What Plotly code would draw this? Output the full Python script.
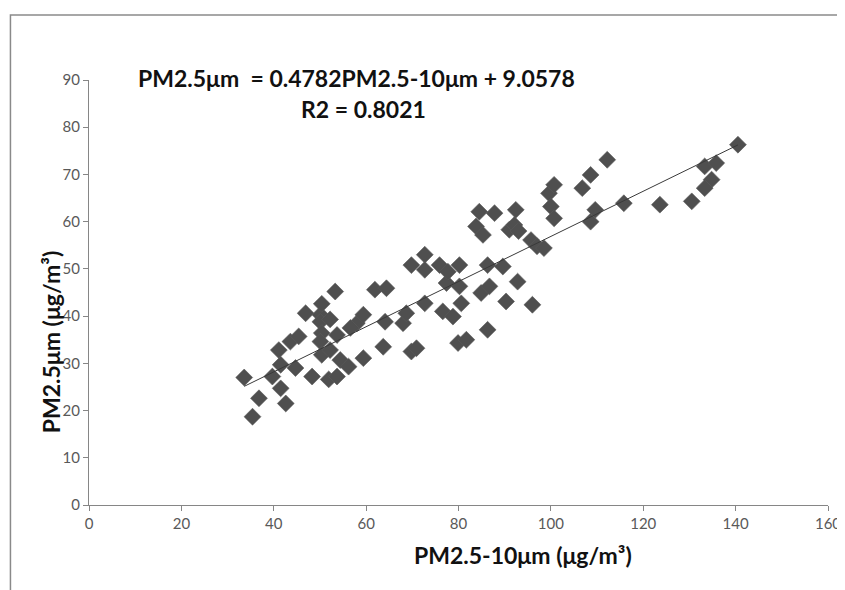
import plotly.graph_objects as go

# PM2.5-10 (x) and PM2.5 (y), ug/m3
pm_coarse = [33.6, 35.4, 36.8, 39.7, 41.1, 41.5, 41.5, 42.6, 43.6, 44.7,
             45.4, 46.9, 48.3, 50.1, 50.4, 50.1, 50.4, 50.1, 50.4, 51.9,
             52.2, 52.2, 53.3, 53.7, 53.7, 54.4, 56.2, 58.0, 59.4, 59.4,
             56.6, 61.9, 64.4, 64.1, 63.7, 68.0, 68.7, 69.8, 69.8, 70.9,
             72.7, 72.7, 72.7, 75.9, 76.6, 77.4, 77.7, 78.8, 79.9, 80.2,
             80.2, 80.6, 81.7, 84.5, 83.8, 85.3, 84.9, 86.3, 86.7, 86.3,
             87.8, 89.6, 90.3, 91.0, 92.1, 92.4, 93.0, 92.8, 95.7, 96.0,
             97.0, 98.5, 99.6, 100.7, 100.0, 100.7, 106.8, 108.6, 108.6, 109.6,
             112.2, 115.8, 123.6, 130.5, 133.3, 135.8, 134.8, 133.3, 140.5]
pm_fine = [27.0, 18.7, 22.6, 27.2, 32.8, 29.7, 24.7, 21.5, 34.6, 29.0,
           35.7, 40.6, 27.2, 40.3, 42.6, 38.8, 36.4, 34.6, 31.8, 26.6,
           39.3, 32.8, 45.2, 36.0, 27.2, 30.7, 29.3, 38.5, 40.3, 31.1,
           37.5, 45.6, 45.9, 38.8, 33.5, 38.5, 40.6, 50.8, 32.5, 33.2,
           53.0, 49.8, 42.7, 50.8, 41.0, 47.0, 49.4, 39.9, 34.3, 50.8,
           46.3, 42.7, 35.0, 62.1, 59.0, 57.2, 44.9, 50.8, 46.3, 37.1,
           61.8, 50.5, 43.1, 58.3, 59.3, 62.5, 58.0, 47.3, 56.1, 42.4,
           54.8, 54.4, 66.0, 67.8, 63.2, 60.7, 67.1, 69.9, 60.0, 62.5,
           73.1, 63.9, 63.6, 64.3, 71.7, 72.4, 68.9, 67.1, 76.3]

slope = 0.4782
intercept = 9.0578
r2 = 0.8021

x_ticks = [0, 20, 40, 60, 80, 100, 120, 140, 160]
y_ticks = [0, 10, 20, 30, 40, 50, 60, 70, 80, 90]

FONT = "Lato, 'Open Sans', sans-serif"
AXIS_COLOR = "#868686"
TICK_COLOR = "#595959"

xl = [min(pm_coarse), max(pm_coarse)]
yl = [slope * v + intercept for v in xl]

fig = go.Figure()
fig.add_trace(go.Scatter(
    x=pm_coarse, y=pm_fine, mode="markers",
    marker=dict(symbol="diamond", size=13, color="#4f4f4f",
                line=dict(color="rgba(90,90,90,0.6)", width=1)),
    showlegend=False, hoverinfo="x+y"))
fig.add_trace(go.Scatter(
    x=xl, y=yl, mode="lines",
    line=dict(color="#3a3a3a", width=1),
    showlegend=False, hoverinfo="skip"))

fig.update_layout(
    width=845, height=590,
    margin=dict(l=81, r=21, t=72, b=93),
    paper_bgcolor="white", plot_bgcolor="white",
    font=dict(family=FONT, color=TICK_COLOR, size=15),
    xaxis=dict(range=[0, 160], tickvals=x_ticks, showgrid=False, zeroline=False,
               showline=True, linecolor=AXIS_COLOR, linewidth=1,
               ticks="outside", ticklen=5, tickcolor=AXIS_COLOR,
               tickfont=dict(size=15, color=TICK_COLOR, family=FONT)),
    yaxis=dict(range=[0, 90], tickvals=y_ticks, showgrid=False, zeroline=False,
               showline=True, linecolor=AXIS_COLOR, linewidth=1,
               ticks="outside", ticklen=5, tickcolor=AXIS_COLOR,
               tickfont=dict(size=15, color=TICK_COLOR, family=FONT)),
    shapes=[dict(type="path", xref="paper", yref="paper",
                 path="M -0.1063,-0.3 L -0.1063,1.1529 L 1.1,1.1529",
                 line=dict(color="#8a8a8a", width=1.5))],
    annotations=[
        dict(text="<b>PM2.5μm  = 0.4782PM2.5-10μm + 9.0578</b>",
             x=0.362, y=1.042, xref="paper", yref="paper", showarrow=False,
             font=dict(size=23, color="#111111", family=FONT)),
        dict(text="<b>R2 = 0.8021</b>",
             x=0.371, y=0.969, xref="paper", yref="paper", showarrow=False,
             font=dict(size=23, color="#111111", family=FONT)),
        dict(text="<b>PM2.5-10μm (μg/m³)</b>",
             x=0.587, y=-0.155, xref="paper", yref="paper", showarrow=False,
             font=dict(size=23, color="#111111", family=FONT)),
        dict(text="<b>PM2.5μm (μg/m³)</b>", textangle=-90,
             x=-0.0727, y=0.3835, xref="paper", yref="paper", showarrow=False,
             font=dict(size=23, color="#111111", family=FONT)),
    ],
)

fig.write_html("out.html")
